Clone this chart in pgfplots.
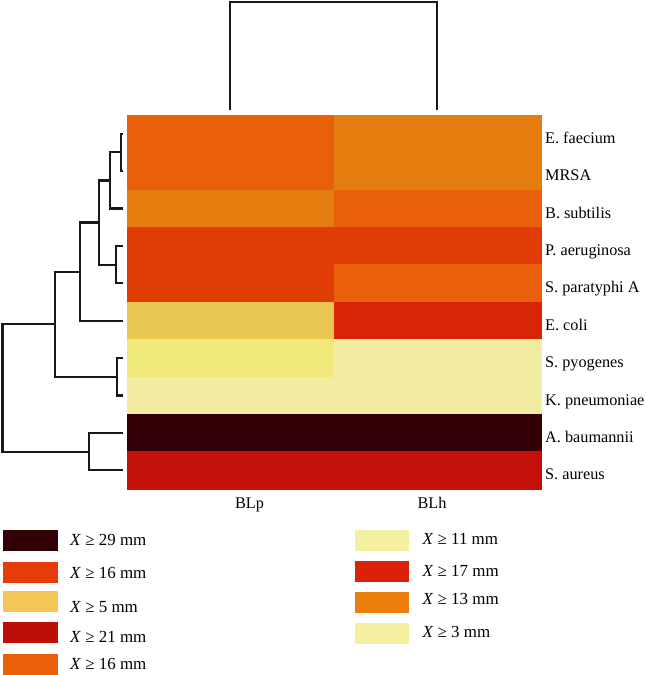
\documentclass[border=0pt]{standalone}
\usepackage{pgfplots}
\pgfplotsset{compat=1.18}
\usepackage{fontspec}
\setmainfont{Liberation Serif}

% heatmap colours
\definecolor{cA}{HTML}{E8610A}
\definecolor{cB}{HTML}{E57E0E}
\definecolor{cC}{HTML}{E03C06}
\definecolor{cD}{HTML}{E8C850}
\definecolor{cE}{HTML}{DA2408}
\definecolor{cF}{HTML}{F0E87A}
\definecolor{cG}{HTML}{F1ECA0}
\definecolor{cH}{HTML}{340008}
\definecolor{cI}{HTML}{C41008}
% legend colours
\definecolor{l1}{HTML}{340008}
\definecolor{l2}{HTML}{E63C0A}
\definecolor{l3}{HTML}{F4C655}
\definecolor{l4}{HTML}{BE0E08}
\definecolor{l5}{HTML}{EA6008}
\definecolor{r1}{HTML}{F4F0A0}
\definecolor{r2}{HTML}{DA2208}
\definecolor{r3}{HTML}{EC7F0E}
\definecolor{r4}{HTML}{F4F0A0}

\tikzset{
    cell/.style={fill=#1, draw=#1, line width=0.3bp},
    tree/.style={black!90, line width=2.1bp, line join=miter},
    lab/.style={font=\fontsize{16.3}{18}\selectfont, anchor=base west, inner sep=0pt},
    leg/.style={font=\fontsize{17}{19}\selectfont, anchor=west, inner sep=0pt},
}

\begin{document}
\begin{tikzpicture}
\begin{axis}[
    name=ax,
    width=646bp, height=675bp,
    scale only axis,
    xmin=0, xmax=646,
    ymin=0, ymax=675,
    y dir=reverse,
    hide axis,
    clip=false,
]

% ---- heatmap, column BLp (x 127-334) ----
\addplot[cell=cA] coordinates {(127,115) (334,115) (334,152.4) (127,152.4)} -- cycle;
\addplot[cell=cA] coordinates {(127,152.4) (334,152.4) (334,189.8) (127,189.8)} -- cycle;
\addplot[cell=cB] coordinates {(127,189.8) (334,189.8) (334,227.2) (127,227.2)} -- cycle;
\addplot[cell=cC] coordinates {(127,227.2) (334,227.2) (334,264.6) (127,264.6)} -- cycle;
\addplot[cell=cC] coordinates {(127,264.6) (334,264.6) (334,302) (127,302)} -- cycle;
\addplot[cell=cD] coordinates {(127,302) (334,302) (334,339.4) (127,339.4)} -- cycle;
\addplot[cell=cF] coordinates {(127,339.4) (334,339.4) (334,376.8) (127,376.8)} -- cycle;
\addplot[cell=cG] coordinates {(127,376.8) (334,376.8) (334,414.2) (127,414.2)} -- cycle;
\addplot[cell=cH] coordinates {(127,414.2) (334,414.2) (334,451.6) (127,451.6)} -- cycle;
\addplot[cell=cI] coordinates {(127,451.6) (334,451.6) (334,489) (127,489)} -- cycle;

% ---- heatmap, column BLh (x 334-541) ----
\addplot[cell=cB] coordinates {(334,115) (541,115) (541,152.4) (334,152.4)} -- cycle;
\addplot[cell=cB] coordinates {(334,152.4) (541,152.4) (541,189.8) (334,189.8)} -- cycle;
\addplot[cell=cA] coordinates {(334,189.8) (541,189.8) (541,227.2) (334,227.2)} -- cycle;
\addplot[cell=cC] coordinates {(334,227.2) (541,227.2) (541,264.6) (334,264.6)} -- cycle;
\addplot[cell=cA] coordinates {(334,264.6) (541,264.6) (541,302) (334,302)} -- cycle;
\addplot[cell=cE] coordinates {(334,302) (541,302) (541,339.4) (334,339.4)} -- cycle;
\addplot[cell=cG] coordinates {(334,339.4) (541,339.4) (541,376.8) (334,376.8)} -- cycle;
\addplot[cell=cG] coordinates {(334,376.8) (541,376.8) (541,414.2) (334,414.2)} -- cycle;
\addplot[cell=cH] coordinates {(334,414.2) (541,414.2) (541,451.6) (334,451.6)} -- cycle;
\addplot[cell=cI] coordinates {(334,451.6) (541,451.6) (541,489) (334,489)} -- cycle;

% ---- column dendrogram ----
\addplot[tree] coordinates {(230,110) (230,2) (437,2) (437,110)};

% ---- row dendrogram ----
\addplot[tree] coordinates {(123,133.7) (120.7,133.7) (120.7,171.1) (123,171.1)};
\addplot[tree] coordinates {(120.7,152.4) (110,152.4) (110,208.5) (123,208.5)};
\addplot[tree] coordinates {(123,245.9) (115.7,245.9) (115.7,283.3) (123,283.3)};
\addplot[tree] coordinates {(110,180.5) (99,180.5) (99,264.6) (115.7,264.6)};
\addplot[tree] coordinates {(99,222.5) (80,222.5) (80,320.7) (123,320.7)};
\addplot[tree] coordinates {(123,358.1) (117,358.1) (117,395.5) (123,395.5)};
\addplot[tree] coordinates {(80,271.6) (55,271.6) (55,376.8) (117,376.8)};
\addplot[tree] coordinates {(123,432.9) (89,432.9) (89,470.3) (123,470.3)};
\addplot[tree] coordinates {(55,324.2) (2.5,324.2) (2.5,451.6) (89,451.6)};

% ---- row labels ----
\node[lab] at (axis cs:545,143.2) {E. faecium};
\node[lab] at (axis cs:545,180.6) {MRSA};
\node[lab] at (axis cs:545,218.0) {B. subtilis};
\node[lab] at (axis cs:545,255.4) {P. aeruginosa};
\node[lab] at (axis cs:545,292.8) {S. paratyphi A};
\node[lab] at (axis cs:545,330.2) {E. coli};
\node[lab] at (axis cs:545,367.6) {S. pyogenes};
\node[lab] at (axis cs:545,405.0) {K. pneumoniae};
\node[lab] at (axis cs:545,442.4) {A. baumannii};
\node[lab] at (axis cs:545,479.8) {S. aureus};

% ---- column labels ----
\node[lab, anchor=base] at (axis cs:249.5,508.7) {BLp};
\node[lab, anchor=base] at (axis cs:432,508.7) {BLh};

% ---- legend patches ----
\addplot[cell=l1] coordinates {(3.5,530) (57,530) (57,550.5) (3.5,550.5)} -- cycle;
\addplot[cell=l2] coordinates {(3.5,561.7) (57,561.7) (57,582.2) (3.5,582.2)} -- cycle;
\addplot[cell=l3] coordinates {(3.5,591) (57,591) (57,611.5) (3.5,611.5)} -- cycle;
\addplot[cell=l4] coordinates {(3.5,622) (57,622) (57,642.5) (3.5,642.5)} -- cycle;
\addplot[cell=l5] coordinates {(3.5,654) (57,654) (57,674.3) (3.5,674.3)} -- cycle;
\addplot[cell=r1] coordinates {(355,530) (408.5,530) (408.5,550.5) (355,550.5)} -- cycle;
\addplot[cell=r2] coordinates {(355,560.7) (408.5,560.7) (408.5,581.2) (355,581.2)} -- cycle;
\addplot[cell=r3] coordinates {(355,591.7) (408.5,591.7) (408.5,612.2) (355,612.2)} -- cycle;
\addplot[cell=r4] coordinates {(355,622.7) (408.5,622.7) (408.5,643.2) (355,643.2)} -- cycle;

% ---- legend texts ----
\node[leg] at (axis cs:70,540) {\textit{X} ≥ 29 mm};
\node[leg] at (axis cs:70,572.7) {\textit{X} ≥ 16 mm};
\node[leg] at (axis cs:70,607) {\textit{X} ≥ 5 mm};
\node[leg] at (axis cs:70,637) {\textit{X} ≥ 21 mm};
\node[leg] at (axis cs:70,664) {\textit{X} ≥ 16 mm};
\node[leg] at (axis cs:422.3,539) {\textit{X} ≥ 11 mm};
\node[leg] at (axis cs:422.3,571) {\textit{X} ≥ 17 mm};
\node[leg] at (axis cs:422.3,599) {\textit{X} ≥ 13 mm};
\node[leg] at (axis cs:422.3,631.7) {\textit{X} ≥ 3 mm};

\end{axis}
\pgfresetboundingbox
\useasboundingbox (ax.south west) rectangle (ax.north east);
\end{tikzpicture}
\end{document}
